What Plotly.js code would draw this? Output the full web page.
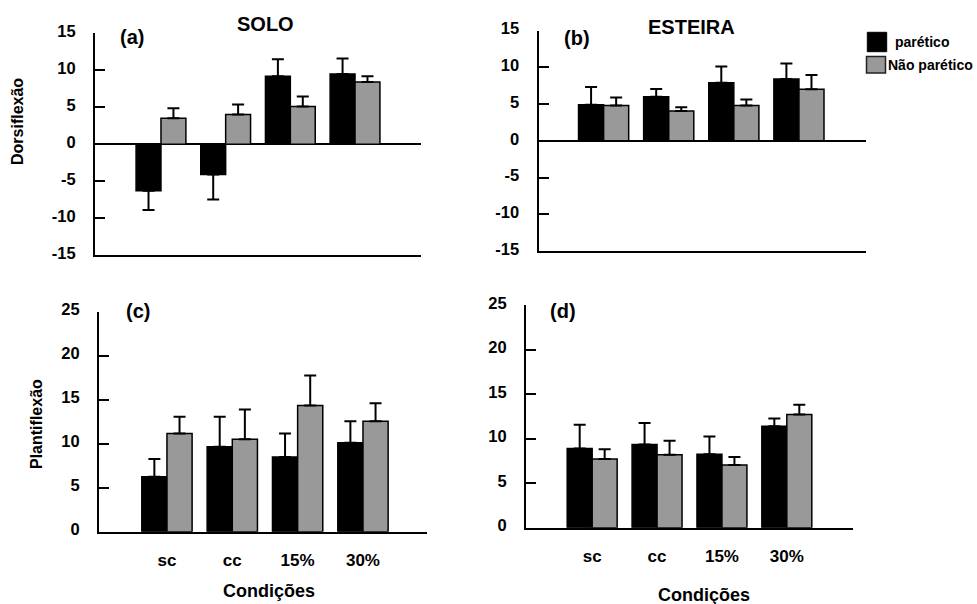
<!DOCTYPE html>
<html>
<head>
<meta charset="utf-8">
<script src="https://cdn.plot.ly/plotly-3.0.1.min.js"></script>
<style>html,body{margin:0;padding:0;background:#fff;}#chart{width:977px;height:604px;}</style>
</head>
<body>
<div id="chart"></div>
<script>
// ---- data ----
const categories = ['sc', 'cc', '15%', '30%'];
const seriesNames = ['parético', 'Não parético'];
const panelTitles = ['SOLO', 'ESTEIRA'];
const panelLetters = ['(a)', '(b)', '(c)', '(d)'];
const yTitles = ['Dorsiflexão', 'Plantiflexão'];
const xTitle = 'Condições';
const dorsiTicks = [-15, -10, -5, 0, 5, 10, 15];
const plantiTicks = [0, 5, 10, 15, 20, 25];

// (a) SOLO - Dorsiflexão
const soloDorsiParetico = [-6.3, -4.1, 9.2, 9.5];
const soloDorsiPareticoErr = [2.6, 3.4, 2.3, 2.1];
const soloDorsiNao = [3.5, 4.0, 5.1, 8.4];
const soloDorsiNaoErr = [1.35, 1.35, 1.35, 0.8];
// (b) ESTEIRA - Dorsiflexão
const esteiraDorsiParetico = [4.9, 6.0, 7.9, 8.4];
const esteiraDorsiPareticoErr = [2.4, 1.05, 2.2, 2.1];
const esteiraDorsiNao = [4.8, 4.05, 4.8, 7.0];
const esteiraDorsiNaoErr = [1.1, 0.5, 0.8, 1.95];
// (c) SOLO - Plantiflexão
const soloPlantiParetico = [6.25, 9.65, 8.5, 10.1];
const soloPlantiPareticoErr = [2.0, 3.4, 2.65, 2.45];
const soloPlantiNao = [11.15, 10.5, 14.35, 12.55];
const soloPlantiNaoErr = [1.9, 3.4, 3.4, 2.05];
// (d) ESTEIRA - Plantiflexão
const esteiraPlantiParetico = [8.9, 9.35, 8.25, 11.4];
const esteiraPlantiPareticoErr = [2.65, 2.4, 2.0, 0.85];
const esteiraPlantiNao = [7.7, 8.2, 7.05, 12.7];
const esteiraPlantiNaoErr = [1.1, 1.55, 0.9, 1.1];

// ---- styling / layout ----
const W = 977, H = 604;
const FONT = 'Liberation Sans, Arial, Helvetica, sans-serif';
const BLACK = '#000000';
const GRAY = '#999999';
const px = v => v / W;
const py = v => 1 - v / H;

const panels = [
  {xa: 'x', ya: 'y', P: soloDorsiParetico, PE: soloDorsiPareticoErr, N: soloDorsiNao, NE: soloDorsiNaoErr,
   xdom: [95, 421], ydom: [255, 33.3], xr: [-1.02, 4.02], yr: [-15, 15], ticks: dorsiTicks, zl: true, labels: false},
  {xa: 'x2', ya: 'y2', P: esteiraDorsiParetico, PE: esteiraDorsiPareticoErr, N: esteiraDorsiNao, NE: esteiraDorsiNaoErr,
   xdom: [538.5, 866], ydom: [251, 30.5], xr: [-1.0, 4.03], yr: [-15, 15], ticks: dorsiTicks, zl: true, labels: false},
  {xa: 'x3', ya: 'y3', P: soloPlantiParetico, PE: soloPlantiPareticoErr, N: soloPlantiNao, NE: soloPlantiNaoErr,
   xdom: [99, 427], ydom: [531.7, 311.7], xr: [-1.04, 3.98], yr: [0, 25], ticks: plantiTicks, zl: false, labels: true},
  {xa: 'x4', ya: 'y4', P: esteiraPlantiParetico, PE: esteiraPlantiPareticoErr, N: esteiraPlantiNao, NE: esteiraPlantiNaoErr,
   xdom: [526, 853], ydom: [527.7, 305], xr: [-1.02, 4.02], yr: [0, 25], ticks: plantiTicks, zl: false, labels: true}
];

function errBar(vals, errs) {
  return {
    type: 'data', symmetric: false,
    array: vals.map((v, i) => v >= 0 ? errs[i] : 0),
    arrayminus: vals.map((v, i) => v < 0 ? errs[i] : 0),
    color: BLACK, thickness: 2, width: 6
  };
}

const traces = [];
const layout = {
  width: W, height: H,
  margin: {l: 0, r: 0, t: 0, b: 0},
  paper_bgcolor: '#ffffff', plot_bgcolor: 'rgba(0,0,0,0)',
  showlegend: false,
  barmode: 'group', bargap: 0.23, bargroupgap: 0,
  font: {family: FONT, color: BLACK, weight: 'bold'},
  annotations: [], shapes: []
};

panels.forEach((p, k) => {
  traces.push({type: 'bar', x: categories, y: p.P, name: seriesNames[0], xaxis: p.xa, yaxis: p.ya,
    marker: {color: BLACK, line: {color: BLACK, width: 1.5}}, error_y: errBar(p.P, p.PE)});
  traces.push({type: 'bar', x: categories, y: p.N, name: seriesNames[1], xaxis: p.xa, yaxis: p.ya,
    marker: {color: GRAY, line: {color: BLACK, width: 1.5}}, error_y: errBar(p.N, p.NE)});
  const xk = 'xaxis' + (k === 0 ? '' : k + 1);
  const yk = 'yaxis' + (k === 0 ? '' : k + 1);
  layout[xk] = {
    domain: [px(p.xdom[0]), px(p.xdom[1])], anchor: p.ya,
    type: 'category', categoryarray: categories, range: p.xr, fixedrange: true,
    showline: true, linecolor: BLACK, linewidth: 2, mirror: false,
    ticks: '', showgrid: false, zeroline: false,
    showticklabels: p.labels, ticklabelstandoff: 12,
    tickfont: {family: FONT, size: 17, color: BLACK, weight: 'bold'}
  };
  layout[yk] = {
    domain: [py(p.ydom[0]), py(p.ydom[1])], anchor: p.xa,
    range: p.yr, fixedrange: true, tickmode: 'array', tickvals: p.ticks,
    ticktext: p.ticks.map(v => String(v)),
    showline: true, linecolor: BLACK, linewidth: 2,
    ticks: 'inside', ticklen: 10, tickwidth: 2, tickcolor: BLACK,
    showgrid: false, zeroline: p.zl, zerolinecolor: BLACK, zerolinewidth: 2,
    ticklabelstandoff: 14, ticklabelshift: -2,
    tickfont: {family: FONT, size: 16.5, color: BLACK, weight: 'bold'}
  };
});

function ann(text, x, y, size, extra) {
  layout.annotations.push(Object.assign({
    text: text, xref: 'paper', yref: 'paper', x: px(x), y: py(y),
    xanchor: 'center', yanchor: 'middle', showarrow: false,
    font: {family: FONT, size: size, color: BLACK, weight: 'bold'}
  }, extra || {}));
}
// panel titles and letters
ann(panelTitles[0], 265.5, 24, 20);
ann(panelTitles[1], 691, 27, 20);
ann(panelLetters[0], 132, 37, 20);
ann(panelLetters[1], 577, 38, 20);
ann(panelLetters[2], 138, 311, 20);
ann(panelLetters[3], 563, 311, 20);
// axis titles
ann(yTitles[0], 17, 122, 16, {textangle: -90});
ann(yTitles[1], 36, 424, 16, {textangle: -90});
ann(xTitle, 269, 591, 18);
ann(xTitle, 704, 595, 18);

// legend
layout.shapes.push({type: 'rect', xref: 'paper', yref: 'paper', x0: px(867.3), x1: px(886.7), y0: py(51.7), y1: py(32.3),
  fillcolor: BLACK, line: {color: BLACK, width: 1}});
layout.shapes.push({type: 'rect', xref: 'paper', yref: 'paper', x0: px(866.5), x1: px(885.5), y0: py(73), y1: py(56.5),
  fillcolor: GRAY, line: {color: '#222222', width: 1.5}});
ann(seriesNames[0], 892.7, 41.7, 14, {xanchor: 'left'});
ann(seriesNames[1], 885.5, 65, 14, {xanchor: 'left'});

Plotly.newPlot('chart', traces, layout, {staticPlot: true, displayModeBar: false});
</script>
</body>
</html>
